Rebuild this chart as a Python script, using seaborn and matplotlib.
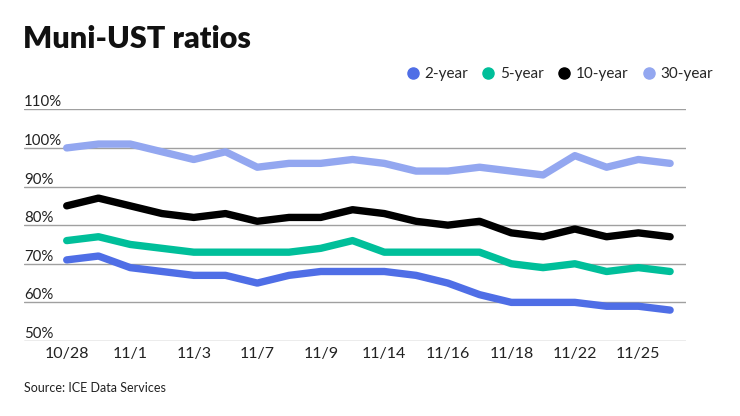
import numpy as np
import pandas as pd
import matplotlib
matplotlib.use('Agg')
import matplotlib.pyplot as plt
from matplotlib.lines import Line2D
import seaborn as sns

dates = ['10/28', '10/31', '11/1', '11/2', '11/3', '11/4', '11/7', '11/8',
         '11/9', '11/10', '11/14', '11/15', '11/16', '11/17', '11/18',
         '11/21', '11/22', '11/23', '11/25', '11/28']
two_yr = [71, 72, 69, 68, 67, 67, 65, 67, 68, 68,
          68, 67, 65, 62, 60, 60, 60, 59, 59, 58]
five_yr = [76, 77, 75, 74, 73, 73, 73, 73, 74, 76,
           73, 73, 73, 73, 70, 69, 70, 68, 69, 68]
ten_yr = [85, 87, 85, 83, 82, 83, 81, 82, 82, 84,
          83, 81, 80, 81, 78, 77, 79, 77, 78, 77]
thirty_yr = [100, 101, 101, 99, 97, 99, 95, 96, 96, 97,
             96, 94, 94, 95, 94, 93, 98, 95, 97, 96]
series = ['2-year', '5-year', '10-year', '30-year']
colors = ['#4f6ee6', '#00bf9a', '#000000', '#93a7f0']
yticks = [50, 60, 70, 80, 90, 100, 110]

df = pd.DataFrame({'idx': range(len(dates)), '2-year': two_yr,
                   '5-year': five_yr, '10-year': ten_yr, '30-year': thirty_yr})
long = df.melt(id_vars='idx', var_name='tenor', value_name='ratio')

sns.set_theme(style='white')
plt.rcParams['font.family'] = ['Lato', 'DejaVu Sans']

fig = plt.figure(figsize=(7.4, 4.16), dpi=100)
ax = fig.add_axes([24/740, 1 - 341/416, (686 - 24)/740, (341 - 109.3)/416])

sns.lineplot(data=long, x='idx', y='ratio', hue='tenor', hue_order=series,
             palette=colors, linewidth=5.3, ax=ax, legend=False,
             solid_capstyle='round')

ax.set_xlim(-1.345, 19.5)
ax.set_ylim(50, 110)
ax.set_yticks(yticks)
ax.set_yticklabels([f'{v}%' for v in yticks])
ax.yaxis.grid(True, color='#a0a0a0', linewidth=1)
ax.set_axisbelow(True)
for lab in ax.get_yticklabels():
    lab.set_horizontalalignment('left')
    lab.set_verticalalignment('bottom')
ax.tick_params(axis='y', length=0, pad=0, labelsize=10.8, labelcolor='#222222')
ax.tick_params(axis='x', length=0, pad=4, labelsize=11.5, labelcolor='#222222')
ax.set_xticks(range(0, len(dates), 2))
ax.set_xticklabels(dates[::2])
ax.set_xlabel('')
ax.set_ylabel('')
for s in ax.spines.values():
    s.set_visible(False)

fig.text(23/740, 1 - 39/416, 'Muni-UST ratios', fontsize=22, fontweight='heavy',
         va='center', ha='left', color='#111111')
fig.text(24/740, 1 - 388/416, 'Source: ICE Data Services', fontsize=9,
         va='center', ha='left', color='#222222')

handles = [Line2D([], [], marker='o', linestyle='none', markersize=8,
                  markerfacecolor=c, markeredgecolor=c) for c in colors]
fig.legend(handles, series, loc='center right', bbox_to_anchor=(713/740, 1 - 74/416),
           ncol=4, frameon=False, fontsize=11, handletextpad=0.35,
           columnspacing=0.95, borderaxespad=0, handlelength=0.8,
           borderpad=0)

fig.savefig('out.png', dpi=100)
